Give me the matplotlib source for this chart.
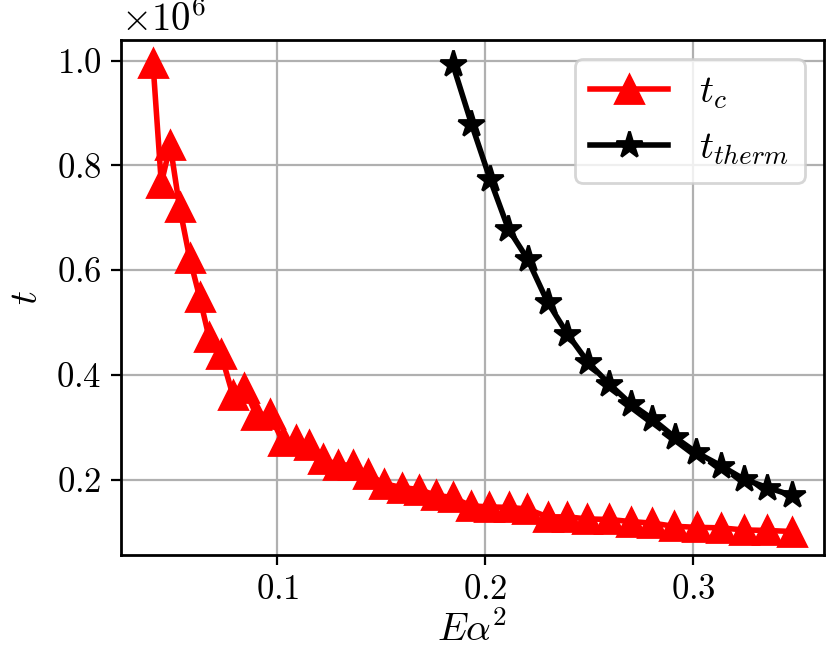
import matplotlib
matplotlib.use("Agg")
import matplotlib.pyplot as plt
from matplotlib.ticker import MultipleLocator

plt.rcParams['font.family'] = 'serif'
plt.rcParams['font.serif'] = ['cmr10', 'DejaVu Serif']
plt.rcParams['mathtext.fontset'] = 'cm'
plt.rcParams['axes.formatter.use_mathtext'] = True
plt.rcParams['font.size'] = 12.5

# critical time t_c vs E*alpha^2 (values in units of 1e6)
x_c = [0.0401, 0.0441, 0.0484, 0.0529, 0.0577, 0.0625, 0.0670, 0.0729, 0.0785, 0.0841,
       0.0898, 0.0962, 0.1026, 0.1090, 0.1154, 0.1221, 0.1290, 0.1362, 0.1434, 0.1514,
       0.1600, 0.1683, 0.1763, 0.1843, 0.1931, 0.2019, 0.2115, 0.2203, 0.2300, 0.2396,
       0.2492, 0.2596, 0.2700, 0.2804, 0.2909, 0.3020, 0.3133, 0.3245, 0.3357, 0.3477]
y_c = [0.995, 0.766, 0.838, 0.720, 0.624, 0.549, 0.473, 0.439, 0.362, 0.375,
       0.324, 0.325, 0.273, 0.276, 0.266, 0.240, 0.228, 0.228, 0.211, 0.192,
       0.185, 0.181, 0.170, 0.166, 0.150, 0.148, 0.147, 0.144, 0.129, 0.129,
       0.125, 0.124, 0.120, 0.117, 0.111, 0.109, 0.108, 0.104, 0.103, 0.101]

# thermalisation time
x_t = [0.1843, 0.1934, 0.2023, 0.2111, 0.2204, 0.2300, 0.2396, 0.2495, 0.2596,
       0.2700, 0.2804, 0.2913, 0.3016, 0.3133, 0.3245, 0.3357, 0.3477]
y_t = [0.994, 0.879, 0.774, 0.679, 0.621, 0.539, 0.478, 0.424, 0.383,
       0.345, 0.316, 0.281, 0.252, 0.227, 0.201, 0.185, 0.170]

fig = plt.figure(figsize=(4.145, 3.315), dpi=200)
ax = fig.add_axes([0.146, 0.163, 0.848, 0.777])

ax.plot(x_c, [v * 1e6 for v in y_c], '-^', color='red', lw=2, ms=10, label=r'$t_c$')
ax.plot(x_t, [v * 1e6 for v in y_t], '-*', color='black', lw=2, ms=10, label=r'$t_{therm}$')

ax.xaxis.set_major_locator(MultipleLocator(0.1))
ax.set_xlabel(r'$E\alpha^2$', fontsize=14, labelpad=2)
ax.set_ylabel(r'$t$', fontsize=14)
ax.yaxis.get_offset_text().set_fontsize(14)
ax.grid(True)
for s in ax.spines.values():
    s.set_linewidth(1.0)
ax.legend(loc='upper right', fontsize=14)

fig.savefig('out.png', dpi=200)
